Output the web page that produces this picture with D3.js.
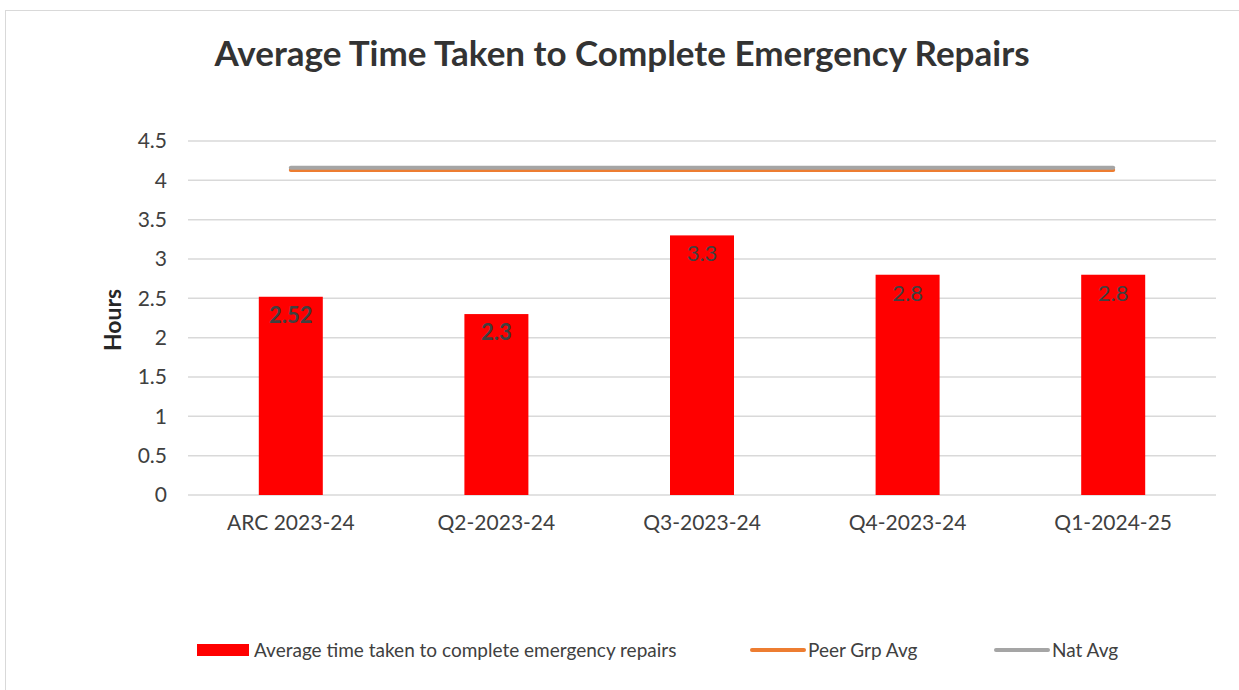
<!DOCTYPE html>
<html>
<head>
  <meta charset="utf-8">
  <title>Average Time Taken to Complete Emergency Repairs</title>
  <script src="https://d3js.org/d3.v7.min.js"></script>
  <style>
    body { margin: 0; background: #fff; }
    svg { display: block; font-family: Lato, "Open Sans", sans-serif; }
    .grid line { stroke: #d9d9d9; stroke-width: 1.5px; }
    .tick text { fill: #404040; }
  </style>
</head>
<body>
  <svg width="1239" height="690"></svg>
  <script>
    // chart data
    const categories = ["ARC 2023-24", "Q2-2023-24", "Q3-2023-24", "Q4-2023-24", "Q1-2024-25"];
    const repairHours = [2.52, 2.3, 3.3, 2.8, 2.8];
    const boldLabels = [true, true, false, false, false];
    const peerAvg = [4.13, 4.13, 4.13, 4.13, 4.13];
    const natAvg = [4.16, 4.16, 4.16, 4.16, 4.16];
    const yTicks = [0, 0.5, 1, 1.5, 2, 2.5, 3, 3.5, 4, 4.5];

    const svg = d3.select("svg");

    // outer chart border
    svg.append("rect")
      .attr("x", 5.5).attr("y", 10.5)
      .attr("width", 1260).attr("height", 700)
      .attr("fill", "none").attr("stroke", "#d9d9d9").attr("stroke-width", 1);

    const plotLeft = 188, plotRight = 1216, plotTop = 141, plotBottom = 495;

    const x = d3.scaleBand().domain(categories).range([plotLeft, plotRight]);
    const y = d3.scaleLinear().domain([0, 4.5]).range([plotBottom, plotTop]);

    // title
    svg.append("text")
      .attr("x", 622).attr("y", 66)
      .attr("text-anchor", "middle")
      .attr("font-size", 35).attr("font-weight", "bold")
      .attr("fill", "#333")
      .text("Average Time Taken to Complete Emergency Repairs");

    // gridlines
    svg.append("g").attr("class", "grid")
      .selectAll("line").data(yTicks).enter().append("line")
      .attr("x1", plotLeft).attr("x2", plotRight)
      .attr("y1", d => y(d)).attr("y2", d => y(d));

    // y axis labels
    const yAxis = svg.append("g")
      .attr("transform", `translate(${plotLeft - 18},0)`)
      .call(d3.axisLeft(y).tickValues(yTicks).tickSize(0).tickFormat(d => d3.format("")(d)));
    yAxis.select(".domain").remove();
    yAxis.selectAll("text").attr("font-size", 21).attr("font-family", "Lato, sans-serif").attr("fill", "#404040");

    svg.append("text")
      .attr("transform", `translate(121,320) rotate(-90)`)
      .attr("text-anchor", "middle")
      .attr("font-size", 23).attr("font-weight", "bold").attr("fill", "#262626")
      .text("Hours");

    // x axis labels
    const xAxis = svg.append("g")
      .attr("transform", `translate(0,${plotBottom + 17})`)
      .call(d3.axisBottom(x).tickSize(0));
    xAxis.select(".domain").remove();
    xAxis.selectAll("text").attr("font-size", 21).attr("font-family", "Lato, sans-serif").attr("fill", "#404040");

    // bars
    const barW = 64;
    svg.append("g").selectAll("rect").data(repairHours).enter().append("rect")
      .attr("x", (d, i) => x(categories[i]) + x.bandwidth() / 2 - barW / 2)
      .attr("y", d => y(d))
      .attr("width", barW)
      .attr("height", d => plotBottom - y(d))
      .attr("fill", "#ff0000");

    // data labels
    svg.append("g").selectAll("text").data(repairHours).enter().append("text")
      .attr("x", (d, i) => x(categories[i]) + x.bandwidth() / 2)
      .attr("y", d => y(d) + 26)
      .attr("text-anchor", "middle")
      .attr("font-size", 22)
      .attr("font-weight", (d, i) => boldLabels[i] ? "bold" : "normal")
      .attr("fill", "#404040")
      .text(d => d);

    // average lines
    const line = d3.line()
      .x((d, i) => x(categories[i]) + x.bandwidth() / 2)
      .y(d => y(d));

    svg.append("path").datum(peerAvg)
      .attr("d", line).attr("fill", "none")
      .attr("stroke", "#ed7d31").attr("stroke-width", 4).attr("stroke-linecap", "round");
    svg.append("path").datum(natAvg)
      .attr("d", line).attr("fill", "none")
      .attr("stroke", "#a5a5a5").attr("stroke-width", 4).attr("stroke-linecap", "round");

    // legend
    const legend = svg.append("g").attr("font-size", 19).attr("fill", "#404040");
    const ly = 650;
    legend.append("rect").attr("x", 197).attr("y", ly - 6).attr("width", 52).attr("height", 12).attr("fill", "#ff0000");
    legend.append("text").attr("x", 254).attr("y", ly + 7).attr("fill", "#404040")
      .text("Average time taken to complete emergency repairs");
    legend.append("line").attr("x1", 752).attr("x2", 804).attr("y1", ly).attr("y2", ly)
      .attr("stroke", "#ed7d31").attr("stroke-width", 4).attr("stroke-linecap", "round");
    legend.append("text").attr("x", 808).attr("y", ly + 7).attr("fill", "#404040").text("Peer Grp Avg");
    legend.append("line").attr("x1", 996).attr("x2", 1048).attr("y1", ly).attr("y2", ly)
      .attr("stroke", "#a5a5a5").attr("stroke-width", 4).attr("stroke-linecap", "round");
    legend.append("text").attr("x", 1052).attr("y", ly + 7).attr("fill", "#404040").text("Nat Avg");
  </script>
</body>
</html>
